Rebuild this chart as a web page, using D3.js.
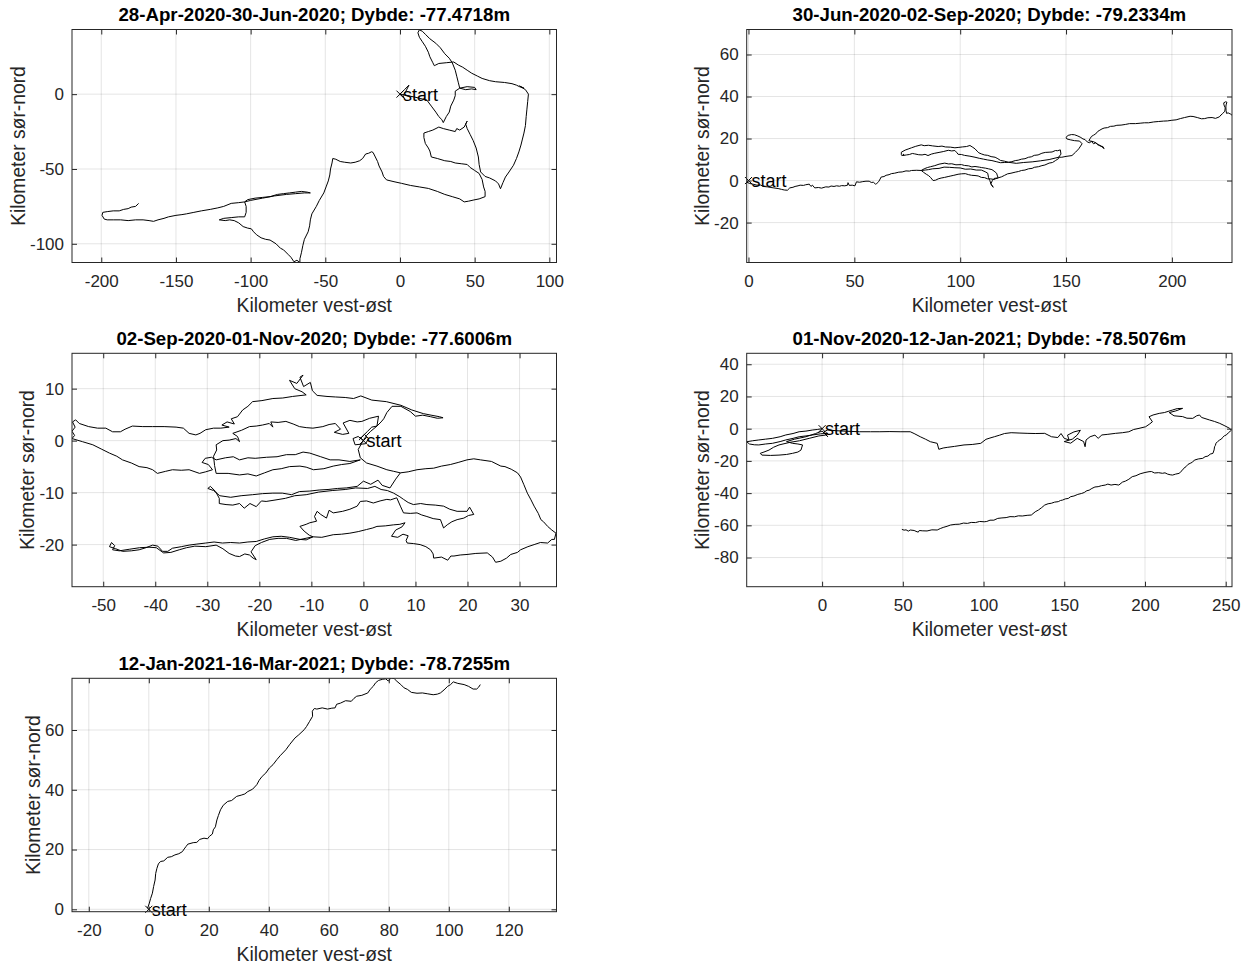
<!DOCTYPE html>
<html>
<head>
<meta charset="utf-8">
<script src="https://cdn.jsdelivr.net/npm/d3@7"></script>
<style>
body { margin: 0; background: #fff; }
text { font-family: "Liberation Sans", Arial, Helvetica, sans-serif; fill: #262626; }
.grid line { stroke: #262626; stroke-opacity: 0.15; stroke-width: 0.8; }
.tick line { stroke: #262626; }
.tick text { font-size: 17px; }
</style>
</head>
<body>
<svg width="1249" height="965"></svg>
<script>
// Drift tracks of a mooring, one panel per period (km from the start point)

var titles = [
	"28-Apr-2020-30-Jun-2020; Dybde: -77.4718m",
	"30-Jun-2020-02-Sep-2020; Dybde: -79.2334m",
	"02-Sep-2020-01-Nov-2020; Dybde: -77.6006m",
	"01-Nov-2020-12-Jan-2021; Dybde: -78.5076m",
	"12-Jan-2021-16-Mar-2021; Dybde: -78.7255m"
];
var xLabel = "Kilometer vest-øst";
var yLabel = "Kilometer sør-nord";
var startLabel = "start";

var xLimits = [[-219.6, 104.8], [-0.85, 228.4], [-56, 37.1], [-46.7, 253.9], [-25.6, 135.9]];
var yLimits = [[-112.5, 43.2], [-39, 71.9], [-28.1, 16.8], [-98.1, 46.8], [-0.8, 77.3]];
var xTickValues = [
	[-200, -150, -100, -50, 0, 50, 100],
	[0, 50, 100, 150, 200],
	[-50, -40, -30, -20, -10, 0, 10, 20, 30],
	[0, 50, 100, 150, 200, 250],
	[-20, 0, 20, 40, 60, 80, 100, 120]
];
var yTickValues = [
	[-100, -50, 0],
	[-20, 0, 20, 40, 60],
	[-20, -10, 0, 10],
	[-80, -60, -40, -20, 0, 20, 40],
	[0, 20, 40, 60]
];

var track1 = [[0,0],[3,3],[6,6],[4,2],[2,-1],[3,-3],[1,-1],[0,0],[5,-1],[10,-2],[14,-3],[18,-4],[21,-8],[24,-12],[26,-15],[28,-17],[29,-19],[31,-15],[33,-12],[34,-8],[36,-4],[37,-1],[37,2],[40,4],[44,3],[48,3.5],[51,3],[50,4.5],[45,5],[40,4],[39,8],[38,12],[37,16],[35,21],[33,24],[30,27],[27,31],[24,34],[20,37],[17,40],[15,42],[13,43],[12,41],[13,38],[15,35],[17,32],[19,28],[20,25],[22,21],[23,19],[24,19.5],[26,20.5],[31,21],[36,21.5],[39,19.5],[42,18],[45,16],[48,14],[52,12],[55,10.5],[60,9],[64,8.3],[70,7.8],[75,7],[78,6],[80,5],[83,4],[80,5.5],[84,3],[86,0],[85.5,-5],[85,-10],[84.5,-15],[84,-21],[83,-26],[82,-30],[81,-34],[79.6,-38.6],[78,-43],[76,-47.5],[73,-52],[70.6,-55.4],[69,-59],[67.3,-63.2],[66,-60],[64,-58],[60,-56],[57,-55],[54,-52],[53,-47],[52.5,-42],[51,-36],[49,-31],[47,-27],[45,-23],[44,-20],[45,-18],[43,-22],[40,-24],[38,-23],[37,-25],[33,-24],[29,-23],[26,-22],[22,-24],[19,-25],[16,-26],[16,-29],[17,-33],[19,-36],[20,-38],[21,-42],[25,-43],[30,-44.5],[34,-45],[37,-46],[41,-46.5],[45,-47],[47,-49],[50,-51],[53,-53],[55,-57],[56,-62],[57,-65],[57,-68.5],[53,-70],[49.5,-70.7],[46,-71.5],[43,-72],[40,-70],[35,-68.5],[30,-67],[25,-65],[19,-63],[13,-62],[7,-61],[1,-59.6],[-4,-58.5],[-9,-57.3],[-11,-55],[-12,-52],[-14,-48],[-15,-45],[-16.5,-42],[-18,-39],[-19,-38.5],[-21,-39.5],[-23,-40],[-25,-43],[-27,-44.5],[-30,-45.5],[-33,-46],[-37,-45.5],[-40,-45],[-43,-43.5],[-45,-43],[-45.5,-46],[-46.5,-50],[-47,-54],[-48,-58],[-49.5,-62],[-51,-66],[-54,-71],[-56,-75],[-59,-80],[-60,-84],[-60.5,-88],[-61.5,-92],[-64,-97],[-65,-101],[-66,-106],[-67,-110],[-67,-112.5],[-69,-111],[-71,-112],[-73,-109],[-75,-107],[-78,-104],[-80,-103],[-83,-100],[-87,-97.5],[-90,-97],[-93,-96],[-96,-94],[-98,-92],[-99.5,-90],[-102,-89.5],[-105,-88.5],[-108,-86],[-111,-84.5],[-114,-84],[-117,-84.5],[-121,-84],[-118,-83],[-113,-82.5],[-108,-82],[-104,-82],[-103,-79],[-103,-75],[-104,-72],[-102,-70.5],[-97,-69.5],[-92,-69],[-87,-68.5],[-82,-67],[-78,-66.5],[-74,-66],[-70,-65.5],[-66,-65],[-62,-65.5],[-60,-66],[-64,-66],[-70,-66.5],[-76,-67],[-84,-68],[-92,-69.5],[-100,-71],[-104,-72],[-108,-72.5],[-113,-73],[-118,-75],[-122,-76],[-127,-77],[-133,-78],[-138,-79],[-143,-80],[-146,-80.5],[-150,-81],[-155,-82],[-158,-83],[-162,-84],[-165,-85],[-168,-84.5],[-172,-84],[-177,-84],[-182,-84.5],[-187,-84],[-192,-84],[-196,-84],[-198,-83.5],[-199.5,-81],[-199,-79],[-196,-78.5],[-192,-78],[-188,-78],[-185,-77],[-182,-76.5],[-180,-75.5],[-177,-75],[-175,-73]];

var track2 = [[0,0],[-0.8,-0.8],[0.6,-1.4],[2.4,-1.8],[4,-2.2],[5.6,-2.1],[7,-2.8],[9,-3],[10.6,-3.3],[12,-3.5],[14,-3.8],[15.6,-4.2],[17,-4.5],[18.4,-4.6],[19.5,-3.5],[21,-3.2],[22,-2.8],[23.4,-2.5],[24.4,-2.2],[26,-2.3],[27,-2],[28.7,-1.7],[29.5,-2.8],[30.2,-2.2],[31.3,-3.5],[33,-3.3],[34.5,-3.6],[36.5,-3],[38,-3.1],[39,-2.6],[40.4,-2.8],[41.6,-2.5],[43,-2.7],[44,-2.4],[45.5,-2.5],[46.8,-2.2],[47,-1],[47.6,-2.3],[49,-2.2],[50.3,-2.5],[51,-0.6],[52.5,-0.8],[54,-0.5],[55.5,-0.3],[57,-0.3],[58,-0.9],[59,-0.8],[60,-1.7],[60.6,-1.4],[61.5,-0.5],[62.7,1.7],[64,1.9],[65,2.5],[66.4,2.8],[67.5,3.3],[69,3.5],[71,4],[72.6,4.1],[74.4,4.6],[76,4.5],[77,4.8],[79.5,4.9],[81.6,4.8],
	[83,5.6],[84.5,6.2],[86,6.6],[88,7.1],[90,7.8],[92.7,8.3],[94.5,7.9],[96,8],[98,7.5],[100.6,7.6],[102,7.2],[104,7],[105.5,6.5],[107,6.7],[109,6.4],[110,6.2],[112,5.9],[113.3,5.6],[115,5.2],[116,4.5],[117.2,3.5],[117.6,2.2],[118,1.3],[116.6,0.8],[116,0.5],[114.5,0.8],[113,0.8],[111.5,1.4],[110,1.5],[108.5,2.2],[107,2.4],[105.4,2.5],[104,2.8],[102.4,3.3],[100.6,3.2],[99,3],[97,2.5],[95.6,2.2],[94.3,1.9],[92.6,1.5],[91,1.2],[89.6,0.8],[88.4,0.2],[87.2,0],[86,1.5],[85,2.4],[84,3],[82.6,4],[81.6,4.8],
	[83.5,5],[85,5.2],[87,5.6],[90,5.8],[92.4,6.4],[95,6.3],[97.5,6.1],[100,6],[102.4,5.4],[105,5.5],[107.6,5],[110,5],[111.8,4.2],[113,3.5],[113.4,1.4],[114,0],[114.6,-1.8],[115.6,-3.2],[114.8,-2],[114.5,-1.5],[115.2,0],[116,1],[117.2,1.2],[118,1.3],[119.6,1.8],[121,2.5],[122.4,3.2],[124,3.5],[126,4],[127.5,4.3],[129,4.8],[130.6,5],[132.3,5.6],[134,5.8],[135,6.3],[137,6.6],[138.6,7.1],[140,7.4],[142,8.3],[143.6,8.6],[145,9.5],[146.5,10.5],[146.5,11.1],
	[147.6,12.6],[147.3,14.6],[146,14.2],[145,14.3],[143.4,13.6],[142,13.5],[140.2,13.4],[138.6,13],[136.8,12.2],[135,12],[133.6,11.3],[132.3,11.1],[130.6,10.4],[129,10.2],[127.4,9.7],[126,9.5],[124.4,9],[122.8,8.7],[121,9.2],[119,9.6],[117.8,10.4],[116.5,11.1],[114.6,11.4],[113,12],[111.4,12.2],[110,12.7],[108.8,13.2],[108,14],[107,15.1],[106,15.8],[104.6,16.7],[103,16.2],[101,16],[99.4,15.8],[97.5,15.6],[95.4,15.9],[93,16],[91.4,16.4],[89.6,16.2],[87,16.5],[85,16.8],[83,16.6],[81.6,17],[79,16.3],[77,15.6],[75.4,15],[74,14.5],[72.2,13.5],[72.2,12.4],[72.5,11.8],[73.4,12.6],[73,11.9],[74.6,12.2],[76,12.4],[77.4,12.9],[78.5,12.7],[80.4,12.3],[82,12.2],[83.4,12.5],[84.8,11.9],[86.4,12.6],[88,13],[90,13.4],[92,13.8],[94.4,14.4],[96,14.1],[97.5,14.3],[98.5,13.2],[99,12.5],[100.6,12.4],[102,12],[104.6,11.6],[107,11.1],[109,10.6],[111,10.2],[113,9.8],[115,9.5],[117,9],[119,8.5],[121,8.6],[122.8,8.7],[126.5,8.2],[130,8.6],[134,8.9],[138,9.4],[142,10],[146.5,11.1],
	[148,11.1],[150,11.5],[152.8,11.9],[154.5,13.5],[156,15.1],[157.6,17.5],[156.4,18.8],[154,19],[152,19.4],[150.4,19.8],[150,20.6],[151,21.5],[152.6,21.9],[154,21.8],[155.6,21.2],[157,20.5],[158,19.8],[159,19.5],[160,18.4],[161,18],[162,18.6],[163,17.5],[164,18],[165,17],[166,16.8],[167,16],[168,15.2],[167.4,16.2],[166,16.5],[164.6,17.6],[163,18.5],[161.6,18.8],[160.8,19],[161.4,20],[162,21],[163,21.6],[164,22.2],[165,23.4],[166,24],[167,24.6],[168,25],[169.6,25.2],[171,25.8],[172.6,25.9],[174,26.3],[176,26.4],[178,26.7],[180,27.1],[182.8,27.1],[185,27.3],[187,27.5],[189,27.5],[191.4,27.9],[193.6,28.1],[196,28.3],[198,28.4],[200,28.7],[202,28.9],[204,29.5],[206,30],[208.6,30.6],[210,30.5],[212,30],[214,29.4],[215.5,29.5],[217,29.9],[219,30],[220.6,29.6],[222.4,30.3],[223.2,31.2],[224,31.9],[225,33],[225.2,34.6],[224.6,36],[224.5,37],[225.4,37.5],[226,37.3],[225.6,36],[225.5,35],[225.6,33.4],[225.8,32],[226.6,32.2],[227,32],[227.8,31.6],[228.4,31.1]];

var track3 = [[0,0],[-1,0.8],[-2,0.4],[-1.6,-0.8],[0.4,-0.6],[1,0.4],[0.2,1.2],[-0.8,0.2],
	[0.8,1.8],[1.6,2.6],[2.6,2.8],[3.4,3.6],[3.9,4.2],[4.5,5.4],[5.5,6.6],
	[7.2,6.6],[9,5.6],[10,4.7],[11.4,4.9],[12.9,4.6],[14.2,4.3],[15.3,4.4],[14.6,4.6],[13,4.9],[11.5,5.2],[9.3,5.9],[7.2,6.8],[4.4,7.5],[1.6,7.8],[-0.5,8.6],[-1.9,8.1],[-3.5,8.3],[-5.4,8.4],[-7,8.5],[-8.9,8.7],[-9.8,9.6],
	[-10.2,11.2],[-11.5,10.4],[-12.2,12.2],[-11.6,12.6],[-12.8,11],[-14.2,11.6],[-13.2,10],[-11.8,9.4],[-11,8.8],
	[-13.6,8.5],[-15.5,8.2],[-17.4,8.1],[-19.5,7.7],[-21.3,7.5],[-22.2,6.6],[-23.2,5.9],
	[-24.2,4.6],[-25.4,4.2],[-24.8,3.2],[-26.2,3.6],[-27.2,3.0],[-25.8,2.6],[-27.4,2.4],
	[-28.8,2.4],[-30.3,2.1],[-31.4,1.4],[-32.2,1.1],[-33.5,1.4],[-34.6,2.4],[-36,2.6],[-38.3,2.7],[-40.5,2.7],[-42.4,2.7],[-44.4,2.8],[-45.8,2.2],[-46.7,1.7],[-48.2,1.7],[-49.5,2.4],[-51.1,2.4],[-52.8,2.7],[-54.6,3.3],[-55.3,4],[-55.9,3.6],[-55.4,2.6],[-56,1.8],[-55.5,1.0],[-56,0.4],
	[-54,-0.2],[-52,-0.8],[-50.4,-1.6],[-48.8,-2.4],[-47.4,-3],[-46.3,-3.7],[-44.6,-4.3],[-43.1,-5],[-41.6,-5.2],[-40.5,-5.6],[-39.6,-6.3],[-38,-5.9],[-36.7,-5.6],[-35,-5.7],[-33.5,-5.6],[-31.5,-6.3],[-30.3,-6],[-29,-5.6],
	[-29.8,-4.6],[-31,-4.2],[-30.4,-3.4],[-29.2,-3.2],[-28.3,-3.7],
	[-26.5,-3.3],[-25,-3.1],[-23.8,-3.7],[-22.2,-3.3],[-20.8,-3.4],[-18.6,-3.2],[-16.6,-3.1],[-14.8,-2.7],[-13.1,-2.7],[-11.6,-2.2],[-10.3,-2.4],[-8.2,-3.1],[-6.4,-3.7],[-4.7,-3.7],[-2.6,-4],[-0.6,-3.7],
	[-2.6,-4.4],[-4.2,-4.6],[-5.8,-4.9],[-7.6,-5.4],[-9.6,-5.6],[-11,-5.1],[-12.2,-4.9],[-14.2,-5],[-15.8,-5.4],[-17.4,-5.6],[-19,-6.2],[-20.6,-6.8],[-22.2,-6.4],[-23.8,-6.6],[-26,-6.3],[-28.3,-6.3],
	[-28.6,-4.8],[-28.8,-3],[-28.2,-1.8],[-28.3,-0.8],[-27,0],[-25.8,0.1],[-24.5,0.4],[-23.8,-0.2],[-24.2,0.8],[-25.1,1.4],[-23.4,2],[-21.9,2.7],[-20.6,2.8],[-19.4,3],[-18.1,3.3],[-17.4,2.6],[-17.8,3.6],[-16.4,3.5],[-14.9,3.7],[-13.5,3.2],[-12.3,2.7],[-11,2.5],[-9.7,2.4],[-7.8,2.7],[-6.6,3.1],[-5.4,3.3],[-4.4,2.2],[-5.6,1.6],[-4,1.2],[-2.8,1.4],[-3.9,3.4],[-2.6,3.9],[-1.2,3.6],[-0.3,3.7],[1.2,4.3],[2.9,4.7],
	[2.6,2.8],[1.4,1.8],[0.6,1],
	[-0.4,-0.6],[-1,-1.7],[-0.6,-3.3],[0.6,-4.3],[2.6,-4.9],[4.5,-5.6],[5.8,-5.9],[7.1,-6.2],
	[6.2,-7.4],[5.1,-9.1],[3.6,-8.6],[2.8,-7.6],[1.4,-8.4],[0,-7.8],[-1.2,-8.8],[-3.3,-9.1],[-5,-9.2],[-6.8,-9.4],[-8.5,-9.5],[-10.3,-9.7],[-12.3,-9.8],[-13.8,-10.4],[-15.6,-10.1],[-17.4,-10.1],[-19.4,-10.2],[-21.3,-10.4],[-23.5,-10.6],[-25.5,-10.9],[-27.6,-10.6],[-28.8,-9.6],[-29.9,-9.2],[-29.4,-8.8],[-28.4,-9.8],[-27.7,-11.1],[-27.7,-12.1],[-26.4,-12.3],[-25.1,-12.4],[-23.8,-12.1],[-22.9,-13],[-21.8,-12.1],[-20.6,-12.7],[-19.6,-11.6],[-18.7,-11.7],[-16.8,-11.4],[-15,-11.1],[-13.2,-10.6],[-11,-10.4],[-8.6,-9.9],[-6,-9.6],[-3.5,-9.4],[-1.5,-9.1],[0.8,-9.2],[2.2,-8.8],[3.4,-9.4],[4.6,-9.6],[5.8,-10.1],[7,-10.8],
	[7.7,-11.3],[8.6,-11.9],[9.6,-12.3],[11,-12.1],[12.2,-12.3],[13.8,-12.4],[15.4,-12.6],[16.6,-13.2],[18,-13.6],[19.9,-13.6],[20.4,-12.8],[21.2,-14.2],[20.2,-14.4],[19.3,-14.9],[18,-15.2],[17,-15.6],[16.1,-16.2],[15.4,-16.8],[14.8,-15.2],[13.4,-15],[12.2,-14.6],[11.2,-14.3],[10.3,-13.9],[9,-14],[7.7,-13.9],[7.1,-12.6],[6.4,-11],[5.2,-11.4],[4.5,-11.3],[3.2,-11.6],[1.9,-12],[0.6,-11.6],[-0.6,-11.7],[-1.2,-12.6],[-2.6,-13.2],[-4,-13.6],[-5.8,-13.9],[-6.6,-13.4],[-7.1,-14.9],[-8.2,-14.2],[-8.9,-13.6],[-9.4,-14.6],[-9,-15.5],[-10.3,-15.8],[-11,-16.1],[-12.2,-16.5],[-11.4,-17.4],[-10.4,-18.2],[-9.7,-18.5],
	[-11,-19.1],[-12.2,-19],[-14.2,-18.6],[-15.8,-18.4],[-17.4,-18.5],[-19,-18.9],[-20.6,-19.4],[-22.2,-19.5],[-23.8,-19.7],[-25.5,-19.6],[-27.1,-19.7],[-28.7,-19.5],[-30.3,-19.7],[-32,-19.9],[-33.5,-20.1],[-35,-20.4],[-36.7,-20.7],[-37.6,-21.3],[-38.6,-21.3],[-39.5,-20.3],[-40.5,-20.1],[-41.8,-20.6],[-43.1,-21],[-44.6,-21.2],[-46.3,-21.3],[-47.6,-20.8],[-48.8,-20.4],[-48.4,-19.6],[-47.8,-20.2],[-48.2,-21],
	[-46.9,-21.2],[-45,-20.9],[-43,-20.6],[-41.2,-20.5],[-39.8,-20.6],[-38.4,-21.6],[-37,-21.5],[-35.4,-21],[-34,-20.6],[-32.4,-20.3],[-30.3,-20.4],[-28.3,-20.1],[-27,-20.8],[-25.8,-21.7],[-24.6,-22.2],[-23.8,-22.3],[-22.8,-21.8],[-21.9,-22],[-21.2,-22.6],[-20.6,-22.9],[-21.6,-21.4],[-20.8,-20.2],[-19.6,-19.6],[-18,-19],[-16.4,-18.8],[-14.8,-18.8],[-13,-19.2],[-11.6,-18.9],[-9.7,-18.5],
	[-8,-18.6],[-5.8,-18.1],[-4.2,-18],[-2.6,-17.8],[-1,-17.5],[0.6,-17.1],[1.8,-16.8],[2.6,-16.5],[4.2,-16.4],[5.8,-16.2],[7,-16.1],[8,-15.8],
	[7.4,-16.6],[6.2,-17.2],[5.4,-18.4],[6.6,-18.6],[7.6,-18],[8.6,-18.3],[8.2,-19.2],[8.4,-19.7],
	[9.6,-19.8],[10.9,-20],[12,-20.4],[12.9,-21],[13.4,-21.8],[13.5,-22.6],[15,-22.4],[16.2,-23],[16.8,-22.2],[17.4,-22.2],[18.6,-22],[19.9,-21.9],[21.6,-21.7],[23.8,-21.6],[24.8,-22.4],[25.4,-23.4],[26.4,-23.2],[27.5,-22.6],[28.3,-21.9],[29.6,-21.5],[30.2,-21],[31.6,-20.4],[32.8,-20],[34,-19.6],[35.4,-19.7],[36.2,-19],[36.7,-19],[37,-17.8],
	[36.2,-17.2],[35.4,-16.5],[34.6,-15.6],[34.1,-15.2],[33.6,-14],[32.8,-12.6],[32.2,-11.4],[31.5,-10.1],[30.8,-8.4],[30.2,-7],[29.6,-6.2],[28.4,-5.5],[27.2,-5],[26.4,-4.9],[24.6,-4],[22.5,-3.7],[21.2,-3.5],[19.9,-3.7],[18.2,-4.2],[16.7,-4.6],[15,-4.9],[13.5,-5.3],[12,-5.4],[10.3,-5.6],[8.6,-6],[7.1,-6.2]];

var track4 = [[0,0],[-3,-0.5],[-5.8,-0.8],[-10,-1.5],[-14.2,-1.9],[-18,-3],[-22.5,-3.9],[-26,-5],[-30.8,-6],[-35,-6.5],[-39.2,-7],[-43,-7.5],[-46.7,-8.1],[-45,-9.5],[-42,-10],[-39.2,-10.1],[-35,-9.5],[-30.8,-9.1],[-26,-8],[-22.5,-7],[-18,-6],[-14.2,-5],[-10,-4.5],[-5.8,-3.9],[-1,-3.2],[3.5,-2.9],[2,-4],[-2,-4.5],[-8,-6],[-14,-7.5],[-20,-8.5],[-26.7,-10.1],[-30,-11.5],[-32.9,-13.3],[-36,-14.5],[-38.3,-15.3],[-37.3,-16.4],[-32,-16.6],[-26.7,-16.4],[-22,-16],[-18.3,-15.3],[-15,-14.5],[-13.1,-13.3],[-12.1,-10.1],[-15,-9.5],[-18.3,-9.1],[-22,-8],[-17,-6.5],[-10,-5],[-4,-3],[0,-1.5],[3.5,-5],[1,-2],[3.5,-0.8],[8,-1.2],[13,-1.5],[18,-1.7],[23.3,-1.9],[30,-1.9],[35.8,-1.9],[42,-1.8],[48.3,-1.9],[54.6,-1.9],[57,-3],[60.8,-5],[64,-6.5],[67.1,-8.1],[71.3,-9.1],[72.3,-12.8],[75,-12],[77.5,-11.6],[82,-11],[87.9,-10.1],[93,-9.8],[98.3,-9.1],[101.5,-6.6],[104,-5.8],[106.7,-5],[110,-4],[113,-3],[117.1,-2.5],[122,-2.7],[127.5,-2.9],[132,-3],[137.9,-2.9],[142.1,-5],[146,-5.5],[148,-3],[150,-6],[153,-7],[152,-4],[156,-2],[160,-1],[158,-4],[155,-6.5],[150,-8],[154,-9],[158,-6],[162,-8],[162.9,-11.2],[163.5,-7],[166,-5],[169,-4],[171,-6],[173.3,-3.9],[177,-3.5],[181.7,-2.9],[186,-2.5],[190,-1.9],[193,-0.5],[196.3,0.2],[200.4,1.2],[203,3],[204.6,4.3],[202.5,7.4],[205,8.5],[208.8,9.5],[212,10],[217.1,11.6],[220,12.5],[223.3,12.6],[219,11],[215,10],[218,8],[223.3,7.5],[226,6.5],[229.6,6.4],[232,8],[233.8,8.5],[235,7],[240,5.4],[243,4.5],[246.3,3.3],[249,2],[252.5,0.2],
	[253.5,-1],[251.6,-2.6],[250.4,-3.9],[249.2,-4.4],[248,-5.5],[247.4,-6.4],[246.3,-7],[245,-8],[244,-9],[243.6,-10.4],[243.1,-11.2],[242.8,-13.2],[242.1,-15.3],[240.4,-15.8],[239,-17],[237.2,-17.4],[235.8,-18.4],[233,-18.8],[230.6,-19.5],[229.4,-20.8],[228,-21.5],[226.6,-22.2],[225.4,-23.6],[224,-24.6],[223,-26],[222.2,-26.6],[221.3,-27.7],[219,-28.2],[217.1,-28.8],[215.6,-28.6],[214,-28.2],[212.4,-27.4],[210.8,-27.7],[208.4,-27.3],[206,-27.5],[204,-26.6],[202.5,-26.7],[200,-27.2],[197,-28],[194.4,-29.2],[192.1,-29.8],[190,-31.4],[188,-32.5],[186,-33.2],[183.8,-35],[181.4,-34.6],[179,-35],[177,-34.4],[175.4,-35],[173,-35.4],[171,-36],[169,-36.2],[167.1,-37.1],[165.4,-38.2],[164,-38.5],[162.4,-39.6],[160.8,-40.2],[158.4,-40.8],[156,-41.8],[154,-42.2],[152.5,-43.3],[150.6,-43.6],[149,-44.3],[147.6,-44.6],[146.3,-45.3],[144,-45.6],[142,-46.3],[140,-46.6],[137.9,-47.4],[136,-49],[134,-50.5],[132,-51.6],[129.6,-53.6],[127,-53.8],[124,-54.2],[121.6,-54.1],[119.2,-54.7],[116.4,-54.6],[114,-55.2],[111.4,-55.4],[108.8,-55.7],[106.4,-56.8],[104,-56.8],[102,-57.6],[100.4,-57.8],[97.6,-57.6],[95,-58.3],[92.4,-58.2],[90,-58.8],[87.6,-58.6],[85,-59.3],[82.4,-59.4],[79.6,-59.8],[77.4,-60.6],[75,-61.3],[73.2,-62],[71.3,-62.9],[68,-62.8],[65,-63.5],[62,-63.4],[60.2,-63.2],[59.6,-64.2],[58.8,-64],[57,-63.2],[54.6,-62.9],[53.4,-63.6],[52,-62.8],[50.8,-63],[49.4,-62.5]];

var track5 = [[0,0],[-0.4,0.4],[0.1,1.8],[0.6,3.6],[1.2,5.4],[1.6,7.6],[2.1,9.8],[2.3,12],[2.7,13.7],[3.2,15.2],[3.9,16],[5,16.2],[6.3,17.4],[7.5,17.6],[8.7,18.2],[10,18.6],[11.2,19.3],[11.8,20.2],[12.4,21],[13,21.8],[14.8,22.3],[16,22.4],[17,23.4],[18.4,23.8],[19.6,23.6],[20.2,24.4],[21.2,25.2],[21.5,26.6],[22.2,27.6],[22.7,29.9],[23.2,31.4],[23.9,33.3],[24.8,34.8],[26.3,36.1],[27.6,36.4],[29.3,37.8],[30.8,38.2],[32,38.6],[33,39.4],[34.6,40.2],[36,41.7],[36.8,43.2],[37.8,44.5],[39,45.6],[40.2,47.3],[41.4,48.4],[42.7,50.1],[43.8,51.4],[45.7,53.4],[47,55.2],[48.7,57.3],[50,58.4],[51.8,60.1],[52.6,61.2],[53.6,62.9],[54.6,64.6],[54.5,66.3],[55.2,67.2],[56,67],[57.8,67.4],[59.6,67],[61,67.3],[62.1,67.4],[62.6,68.6],[63.9,69],[65.6,69.8],[67.5,69.6],[68.4,70.6],[69.3,71.3],[71,71.6],[73,72.4],[73.8,73.6],[74.8,74.6],[75.6,75.8],[76.6,76.6],[78,77],[79,77.1],[79.8,76.4],[80.8,77.4],[81.8,77.2],[82.7,76.3],[84,75.2],[85.1,74.1],[86.2,73.6],[87.5,72.6],[89.4,72.3],[91.2,72.4],[93,72.1],[94.8,71.8],[96.2,72],[97.2,72.4],[98.4,73.4],[99.6,74.6],[100.6,75.2],[101.5,76.1],[103,75.6],[105.1,75.2],[106.6,74.6],[108.1,73.7],[109.3,73.7],[110,74.4],[110.5,75.2]];

var tracks = [track1, track2, track3, track4, track5];

// axes boxes in page pixels
var boxes = [
	{left: 72, top: 29.5, width: 484.5, height: 233},
	{left: 746.7, top: 29.5, width: 485.3, height: 233},
	{left: 72, top: 353.3, width: 484.5, height: 233.4},
	{left: 746.7, top: 353.3, width: 485.3, height: 233.4},
	{left: 72, top: 678.3, width: 484.5, height: 233.4}
];

var svg = d3.select("svg");

tracks.forEach(function(track, i){
	var b = boxes[i];
	var x = d3.scaleLinear().domain(xLimits[i]).range([0, b.width]);
	var y = d3.scaleLinear().domain(yLimits[i]).range([b.height, 0]);
	var g = svg.append("g").attr("transform", "translate(" + b.left + "," + b.top + ")");

	// grid
	var grid = g.append("g").attr("class", "grid");
	grid.selectAll("line.gx").data(xTickValues[i]).enter().append("line")
		.attr("x1", d => x(d)).attr("x2", d => x(d)).attr("y1", 0).attr("y2", b.height);
	grid.selectAll("line.gy").data(yTickValues[i]).enter().append("line")
		.attr("y1", d => y(d)).attr("y2", d => y(d)).attr("x1", 0).attr("x2", b.width);

	// the track
	g.append("clipPath").attr("id", "clip" + i)
		.append("rect").attr("width", b.width).attr("height", b.height);
	var line = d3.line().x(d => x(d[0])).y(d => y(d[1]));
	g.append("path")
		.datum(track)
		.attr("clip-path", "url(#clip" + i + ")")
		.attr("d", line)
		.attr("fill", "none")
		.attr("stroke", "#000")
		.attr("stroke-width", 1)
		.attr("stroke-linejoin", "round");

	// start marker
	var sx = x(track[0][0]), sy = y(track[0][1]);
	g.append("path")
		.attr("d", "M" + (sx - 3.5) + "," + (sy - 3.5) + "L" + (sx + 3.5) + "," + (sy + 3.5) +
			"M" + (sx - 3.5) + "," + (sy + 3.5) + "L" + (sx + 3.5) + "," + (sy - 3.5))
		.attr("stroke", "#000").attr("stroke-width", 1);
	g.append("text")
		.attr("x", sx + 3).attr("y", sy + 6.5)
		.style("font-size", "18px").style("fill", "#000")
		.text(startLabel);

	// axes, ticks pointing in, on all four sides
	var fmt = d => String(d);
	g.append("g").attr("transform", "translate(0," + b.height + ")")
		.call(d3.axisBottom(x).tickValues(xTickValues[i]).tickSize(-5).tickSizeOuter(0).tickPadding(12).tickFormat(fmt));
	g.append("g")
		.call(d3.axisTop(x).tickValues(xTickValues[i]).tickSize(-5).tickSizeOuter(0).tickFormat(""));
	var ya = g.append("g")
		.call(d3.axisLeft(y).tickValues(yTickValues[i]).tickSize(-5).tickSizeOuter(0).tickPadding(8).tickFormat(fmt));
	g.append("g").attr("transform", "translate(" + b.width + ",0)")
		.call(d3.axisRight(y).tickValues(yTickValues[i]).tickSize(-5).tickSizeOuter(0).tickFormat(""));
	g.selectAll(".domain").remove();
	g.selectAll(".tick text").attr("font-family", null).attr("font-size", null).style("fill", "#262626");

	g.append("rect")
		.attr("width", b.width).attr("height", b.height)
		.attr("fill", "none").attr("stroke", "#262626").attr("stroke-width", 1);

	// title and labels
	g.append("text")
		.attr("x", b.width / 2).attr("y", -8.5)
		.attr("text-anchor", "middle")
		.style("font-size", "18.7px").style("font-weight", "bold").style("fill", "#000")
		.text(titles[i]);
	g.append("text")
		.attr("x", b.width / 2).attr("y", b.height + 49)
		.attr("text-anchor", "middle")
		.style("font-size", "19.3px")
		.text(xLabel);
	var tickLeft = ya.node().getBBox().x;
	g.append("text")
		.attr("transform", "translate(" + (tickLeft - 5) + "," + (b.height / 2) + ") rotate(-90)")
		.attr("text-anchor", "middle")
		.style("font-size", "19.3px")
		.text(yLabel);
});
</script>
</body>
</html>
